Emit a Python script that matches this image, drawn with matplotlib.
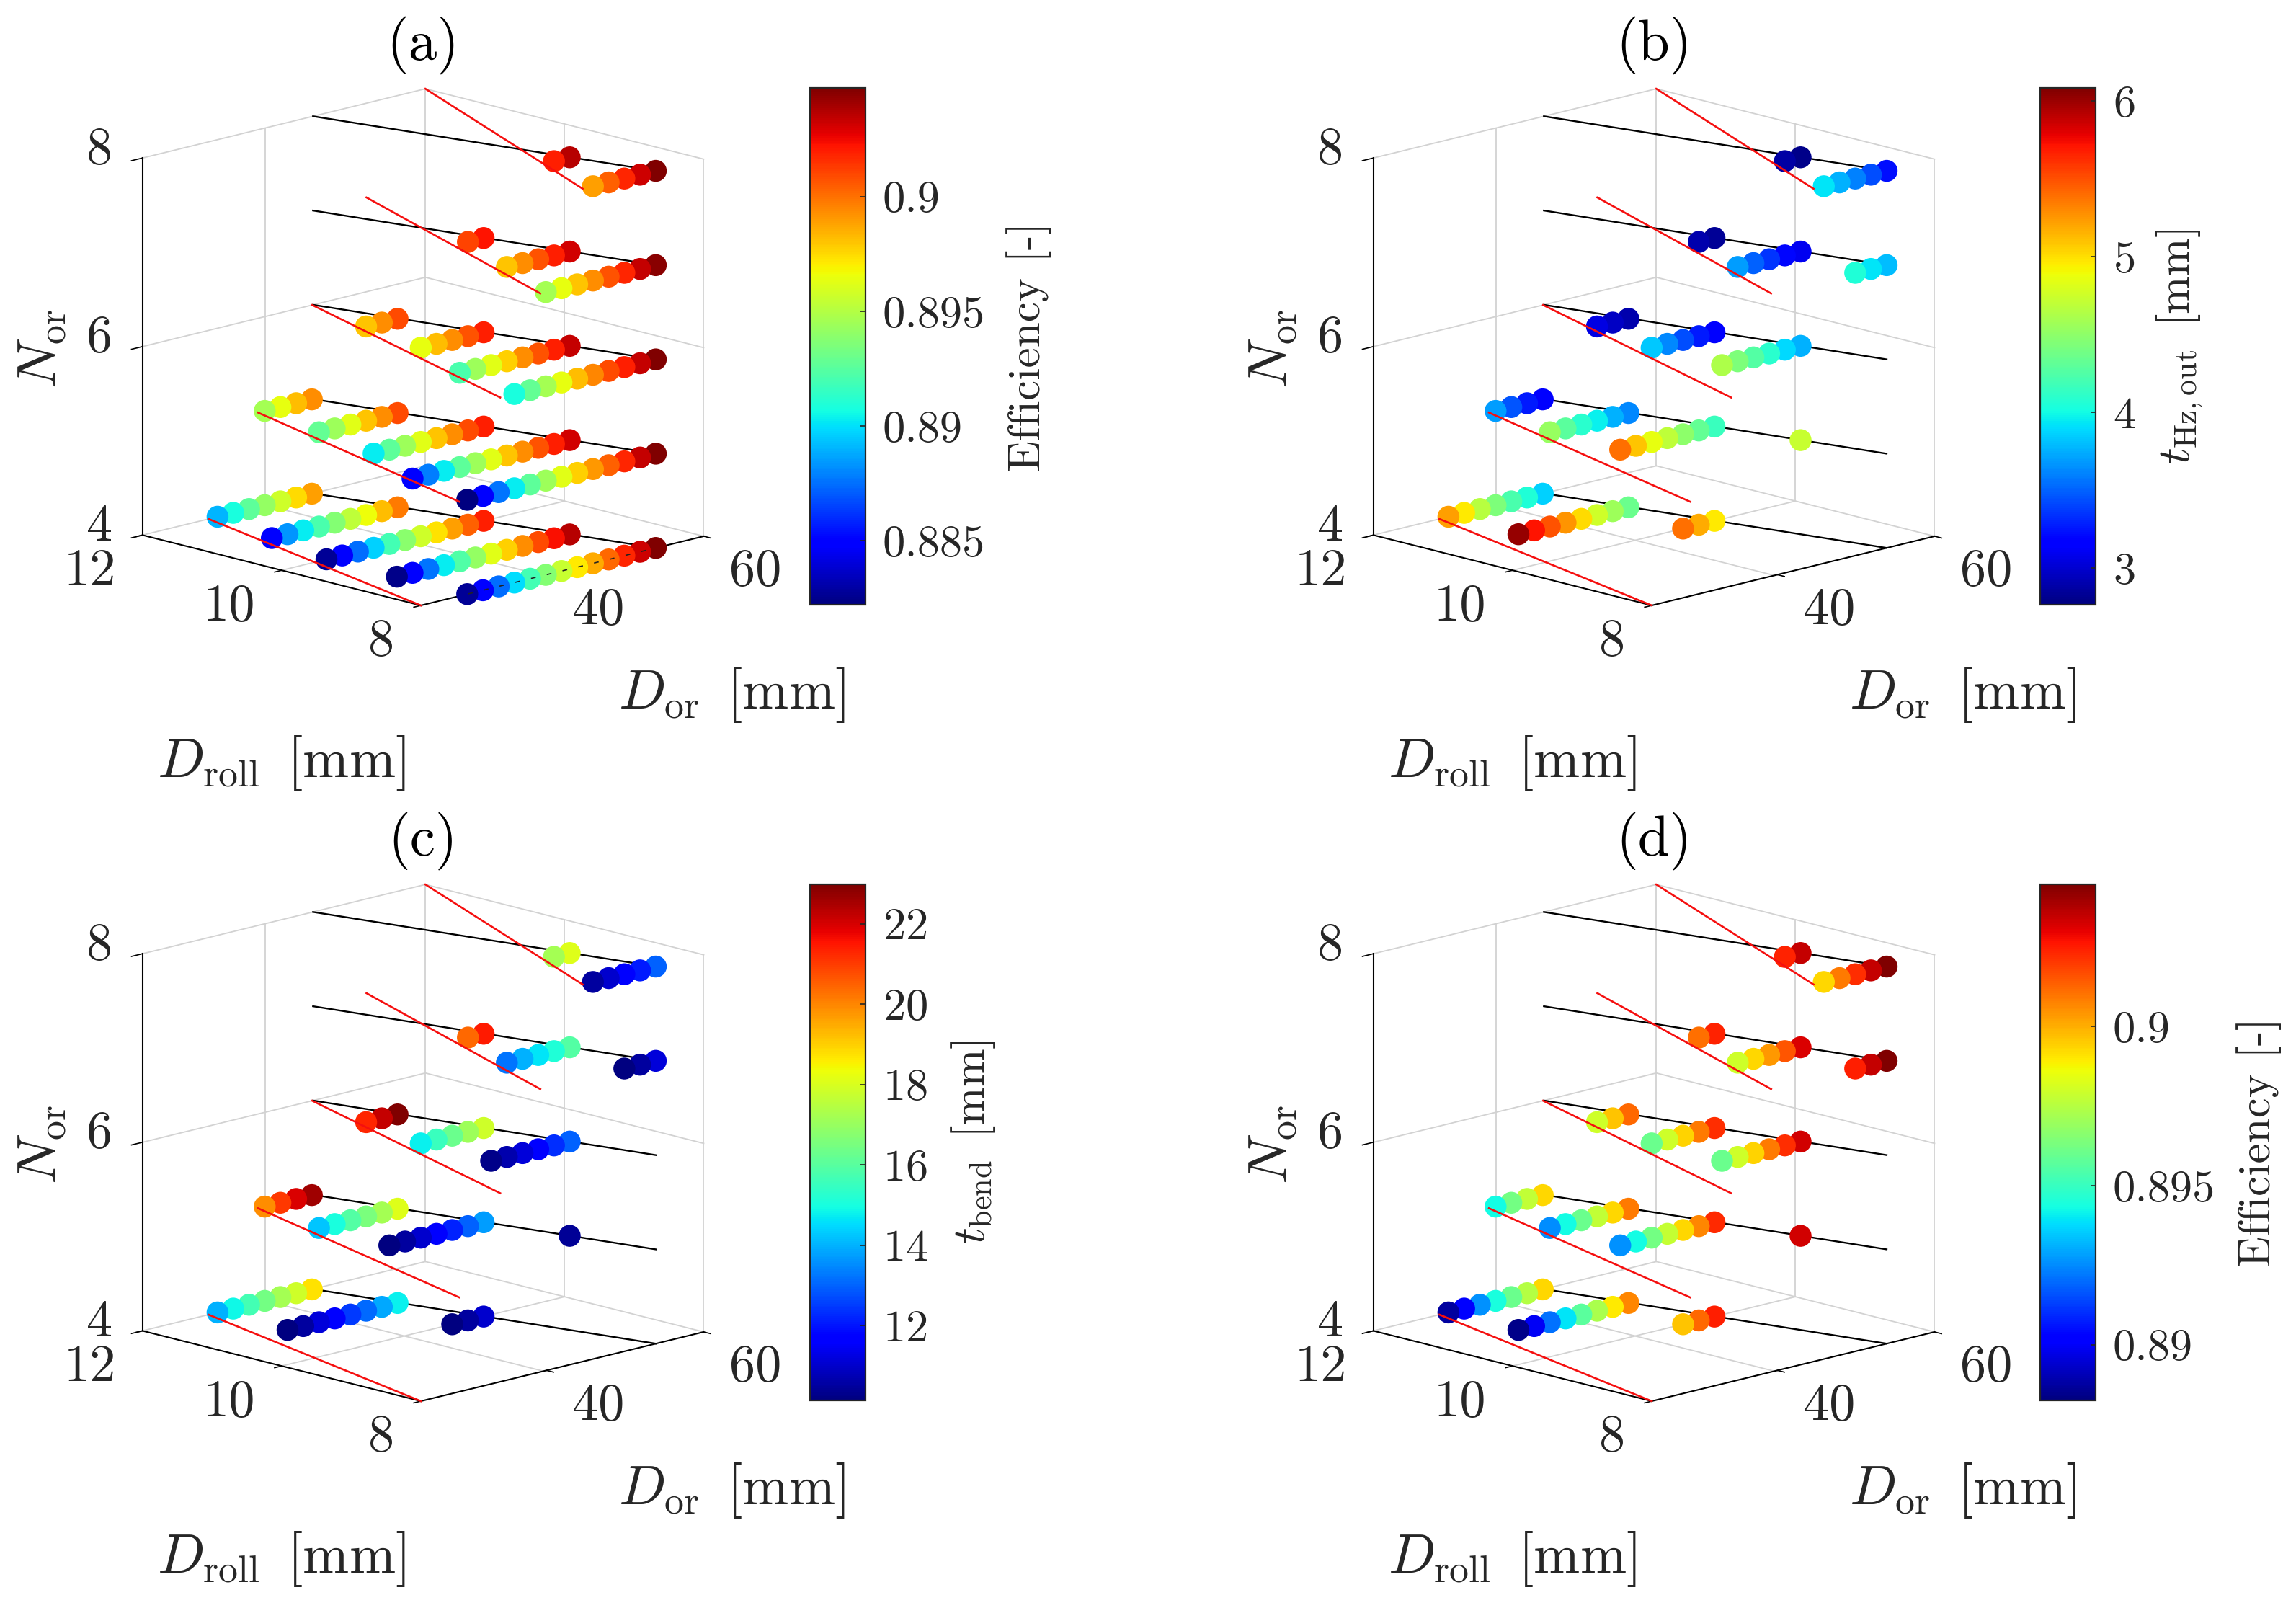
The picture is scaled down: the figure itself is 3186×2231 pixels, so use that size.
#recreate the four 3D design-space scatter panels with matplotlib
import matplotlib
matplotlib.use('Agg')
import matplotlib.pyplot as plt
from mpl_toolkits.mplot3d import proj3d

plt.rcParams['font.family'] = 'cmr10'
plt.rcParams['mathtext.fontset'] = 'cm'
plt.rcParams['axes.formatter.use_mathtext'] = True

W, H = 3186, 2231

nor_levels = [4, 5, 6, 7, 8]
droll_levels = [12, 11, 10, 9, 8]

# Dor of the available points for every Droll level, rows always end on the black line
dor_d12 = [33.55, 35.55, 37.55, 39.55, 41.55, 43.55, 45.55]
dor_d11 = [31.6, 33.6, 35.6, 37.6, 39.6, 41.6, 43.6, 45.6, 47.6]
dor_d10 = [29.7, 31.7, 33.7, 35.7, 37.7, 39.7, 41.7, 43.7, 45.7, 47.7, 49.7]
dor_d9 = [29.8, 31.8, 33.8, 35.8, 37.8, 39.8, 41.8, 43.8, 45.8, 47.8, 49.8, 51.8]
dor_d8 = [29.9, 31.9, 33.9, 35.9, 37.9, 39.9, 41.9, 43.9, 45.9, 47.9, 49.9, 51.9, 53.9]

# black and red limit lines
line_droll = [12, 8]
black_dor = [45.7, 53.9]
red_dor_d12 = [32.4, 38.7, 45.6, 52.5, 60.0]
red_dor_d8 = [24.0, 28.9, 34.1, 39.2, 44.6]

# panel values, one list per Droll level (12, 11, 10, 9, 8)
eff_a_n4 = [[.8890, .8908, .8926, .8941, .8957, .8975, .8989],
            [.8849, .8883, .8903, .8921, .8937, .8953, .8966, .8982, .8998],
            [.8827, .8847, .8874, .8896, .8919, .8939, .8957, .8973, .8989, .9004, .9020],
            [.8824, .8847, .8876, .8903, .8923, .8941, .8962, .8977, .8993, .9009, .9023, .9036],
            [.8827, .8847, .8874, .8899, .8919, .8937, .8955, .8971, .8986, .9002, .9018, .9032, .9047]]
eff_a_n5 = [[.8946, .8964, .8982, .8993],
            [.8928, .8944, .8962, .8980, .8993, .9009],
            [.8903, .8926, .8944, .8962, .8980, .8993, .9009, .9020],
            [.8847, .8878, .8903, .8926, .8944, .8962, .8980, .8993, .9007, .9020, .9031],
            [.8822, .8847, .8876, .8903, .8926, .8944, .8962, .8977, .8991, .9004, .9018, .9034, .9047]]
eff_a_n6 = [[],
            [.8980, .8993, .9009],
            [.8964, .8982, .8993, .9007, .9020],
            [.8921, .8944, .8962, .8977, .8993, .9007, .9020, .9034],
            [.8908, .8928, .8946, .8964, .8982, .8995, .9009, .9020, .9034, .9047]]
eff_a_n7 = [[], [],
            [.9011, .9022],
            [.8980, .8993, .9007, .9020, .9031],
            [.8946, .8964, .8980, .8993, .9007, .9018, .9034, .9045]]
eff_a_n8 = [[], [], [],
            [.9020, .9036],
            [.8989, .9004, .9018, .9032, .9047]]

thz_b_n4 = [[5.22, 4.96, 4.66, 4.43, 4.23, 4.06, 3.86],
            [6.02, 5.72, 5.49, 5.26, 5.02, 4.76, 4.56, 4.36],
            [5.39, 5.19, 4.96], [], []]
thz_b_n5 = [[3.69, 3.46, 3.26, 3.13],
            [4.53, 4.29, 4.09, 3.96, 3.76, 3.63],
            [5.39, 5.09, 4.86, 4.69, 4.49, 4.33, 4.16],
            [4.73], []]
thz_b_n6 = [[],
            [3.06, 2.97, 2.90],
            [3.83, 3.63, 3.43, 3.26, 3.13],
            [4.62, 4.43, 4.26, 4.09, 3.89, 3.76], []]
thz_b_n7 = [[], [],
            [2.90, 2.83],
            [3.69, 3.50, 3.36, 3.20, 3.10],
            [4.06, 3.93, 3.79]]
thz_b_n8 = [[], [], [],
            [2.87, 2.80],
            [3.93, 3.76, 3.60, 3.43, 3.23]]

tb_c_n4 = [[13.99, 14.89, 15.66, 16.43, 17.20, 17.84, 18.74],
           [10.14, 10.52, 11.17, 11.68, 12.45, 13.09, 13.86, 14.76],
           [10.14, 10.52, 11.04], [], []]
tb_c_n5 = [[19.90, 21.05, 21.95, 22.59],
           [14.25, 15.02, 15.92, 16.56, 17.20, 18.10],
           [10.14, 10.52, 11.04, 11.55, 12.19, 12.96, 13.74],
           [10.40], []]
tb_c_n6 = [[],
           [21.31, 22.21, 22.98],
           [14.76, 15.53, 16.30, 17.07, 17.84],
           [10.27, 10.65, 11.17, 11.68, 12.32, 12.96], []]
tb_c_n7 = [[], [],
           [20.41, 21.44],
           [13.22, 13.99, 14.63, 15.15, 15.92],
           [10.14, 10.52, 11.17]]
tb_c_n8 = [[], [], [],
           [17.20, 18.10],
           [10.52, 11.04, 11.55, 12.07, 12.96]]

eff_d_n4 = [[.8887, .8902, .8926, .8944, .8960, .8975, .8993],
            [.8884, .8899, .8921, .8939, .8957, .8973, .8990, .9007],
            [.8996, .9012, .9025], [], []]
eff_d_n5 = [[.8943, .8962, .8977, .8993],
            [.8925, .8943, .8960, .8977, .8993, .9009],
            [.8926, .8943, .8962, .8978, .8993, .9007, .9023],
            [.9033], []]
eff_d_n6 = [[],
            [.8980, .8996, .9012],
            [.8960, .8980, .8994, .9009, .9022],
            [.8960, .8980, .8994, .9009, .9022, .9033], []]
eff_d_n7 = [[], [],
            [.9011, .9024],
            [.8980, .8993, .9004, .9015, .9032],
            [.9025, .9035, .9045]]
eff_d_n8 = [[], [], [],
            [.9024, .9035],
            [.8993, .9009, .9022, .9035, .9045]]

cbar_a_ticks = [0.885, 0.89, 0.895, 0.9]
cbar_a_labels = ['0.885', '0.89', '0.895', '0.9']
cbar_b_ticks = [3, 4, 5, 6]
cbar_c_ticks = [12, 14, 16, 18, 20, 22]
cbar_d_ticks = [0.89, 0.895, 0.9]
cbar_d_labels = ['0.89', '0.895', '0.9']

TICK_FS = 52
LABEL_FS = 55.5
GREY = '#d2d2d2'
DARK = '#262626'
dor_rows = [dor_d12, dor_d11, dor_d10, dor_d9, dor_d8]

fig = plt.figure(figsize=(W / 100, H / 100), dpi=100, facecolor='white')


def new_axes(front_x, front_y):
    """3D axes whose front floor corner lands on the given pixel."""
    side = 920
    ax = fig.add_axes([0, 0, side / W, side / H], projection='3d',
                      proj_type='ortho', computed_zorder=False)
    ax.set_xlim(24, 60, view_margin=0)
    ax.set_ylim(8, 12, view_margin=0)
    ax.set_zlim(4, 8, view_margin=0)
    ax.set_box_aspect((1, 1, 0.981))
    ax.view_init(elev=14.4, azim=-134.54)
    ax.set_axis_off()
    x, y, _ = proj3d.proj_transform(24, 8, 4, ax.get_proj())
    px, py = ax.transData.transform((x, y))
    ax.set_position([(front_x - px) / W, (H - front_y - py) / H, side / W, side / H])
    return ax


def put_text(ax, x, y, z, dx, dy, s, **kw):
    # text at a data point of the 3D axes, shifted by dx, dy pixels (dy downwards)
    x2, y2, _ = proj3d.proj_transform(x, y, z, ax.get_proj())
    px, py = ax.transData.transform((x2, y2))
    fig.text((px + dx) / W, (py - dy) / H, s, **kw)


def draw_frame(ax):
    # grey box lines on the back walls and floor
    for z in [4, 6, 8]:
        ax.plot([24, 60], [12, 12], [z, z], color=GREY, lw=1.3, zorder=1)
        ax.plot([60, 60], [8, 12], [z, z], color=GREY, lw=1.3, zorder=1)
    for x, y in [(39.6, 12), (60, 12), (60, 8), (60, 10)]:
        ax.plot([x, x], [y, y], [4, 8], color=GREY, lw=1.3, zorder=1)
    ax.plot([39.6, 39.6], [8, 12], [4, 4], color=GREY, lw=1.3, zorder=1)
    ax.plot([24, 60], [10, 10], [4, 4], color=GREY, lw=1.3, zorder=1)

    # black axis lines and ticks
    ax.plot([24, 24], [12, 12], [4, 8], color='k', lw=1.5, zorder=2)
    ax.plot([24, 24], [8, 12], [4, 4], color='k', lw=1.5, zorder=2)
    ax.plot([24, 60], [8, 8], [4, 4], color='k', lw=1.5, zorder=2)
    for z in [4, 6, 8]:
        ax.plot([22.6, 24], [12, 12], [z, z], color='k', lw=1.2, zorder=2)
    for y in [8, 10, 12]:
        ax.plot([23.1, 24], [y, y], [4, 4], color='k', lw=1.2, zorder=2)
    for x in [40, 60]:
        ax.plot([x, x], [7.9, 8], [4, 4], color='k', lw=1.2, zorder=2)

    # tick labels
    for z in [4, 6, 8]:
        put_text(ax, 24, 12, z, -42, -11, str(z), ha='right', va='center', fontsize=TICK_FS, color=DARK)
    for y in [8, 10, 12]:
        put_text(ax, 24, y, 4, -37, 51, str(y), ha='right', va='center', fontsize=TICK_FS, color=DARK)
    for x in [40, 60]:
        put_text(ax, x, 8, 4, 36, 50, str(x), ha='left', va='center', fontsize=TICK_FS, color=DARK)

    # axis labels
    put_text(ax, 24, 8, 4, -525, -356, r'$N_{\mathrm{or}}$', rotation=90, ha='center', va='center',
             fontsize=LABEL_FS, color=DARK)
    put_text(ax, 24, 8, 4, -194, 219, r'$D_{\mathrm{roll}}\ \,[\mathrm{mm}]$', ha='center', va='center',
             fontsize=LABEL_FS, color=DARK)
    put_text(ax, 24, 8, 4, 431, 124, r'$D_{\mathrm{or}}\ \,[\mathrm{mm}]$', ha='center', va='center',
             fontsize=LABEL_FS, color=DARK)


def draw_panel(front, title, rows_by_nor, vmin, vmax, cbar_box, ticks, ticklabels, label, label_xy, edge_dash=False):
    ax = new_axes(*front)
    draw_frame(ax)

    for nor in nor_levels:
        ax.plot(black_dor, line_droll, [nor, nor], color='k', lw=1.7, zorder=3)

    xs, ys, zs, cs = [], [], [], []
    for nor, rows in zip(nor_levels, rows_by_nor):
        for droll, dors, vals in zip(droll_levels, dor_rows, rows):
            if len(vals) == 0:
                continue
            xs += dors[-len(vals):]
            ys += [droll] * len(vals)
            zs += [nor] * len(vals)
            cs += vals
    sc = ax.scatter(xs, ys, zs, c=cs, cmap='jet', vmin=vmin, vmax=vmax, s=480,
                    linewidths=0, depthshade=False, zorder=4)

    for nor, dor_a, dor_b in zip(nor_levels, red_dor_d12, red_dor_d8):
        ax.plot([dor_a, dor_b], line_droll, [nor, nor], color='#f50f0f', lw=1.9, zorder=5)

    if edge_dash:
        # the box edge shows through the front row in panel (a)
        ax.plot([30, 54], [8, 8], [4, 4], color='#222222', lw=1.2, zorder=5,
                linestyle=(0, (4, 9.5)))

    put_text(ax, 24, 8, 4, 3, -777, title, ha='center', va='center', fontsize=57, color='k')

    l, t, r, b = cbar_box
    cax = fig.add_axes([l / W, 1 - b / H, (r - l) / W, (b - t) / H])
    cbar = fig.colorbar(sc, cax=cax)
    cbar.set_ticks(ticks)
    if ticklabels is not None:
        cbar.set_ticklabels(ticklabels)
    cbar.ax.tick_params(direction='in', length=5, width=1.2, color=DARK, labelsize=45,
                        labelcolor=DARK, pad=17)
    cbar.outline.set_edgecolor(DARK)
    cbar.outline.set_linewidth(1.6)
    fig.text(label_xy[0] / W, 1 - label_xy[1] / H, label, rotation=90, ha='center', va='center',
             fontsize=45.5, color=DARK)


draw_panel((584, 840), '(a)', [eff_a_n4, eff_a_n5, eff_a_n6, eff_a_n7, eff_a_n8],
           0.8822, 0.90474, (1124, 122, 1201, 839), cbar_a_ticks, cbar_a_labels,
           'Efficiency [-]', (1428, 481), edge_dash=True)
draw_panel((2292, 840), '(b)', [thz_b_n4, thz_b_n5, thz_b_n6, thz_b_n7, thz_b_n8],
           2.765, 6.085, (2831, 122, 2908, 839), cbar_b_ticks, None,
           r'$t_{\mathrm{Hz,out}}\ \,[\mathrm{mm}]$', (3025, 481))
draw_panel((584, 1944), '(c)', [tb_c_n4, tb_c_n5, tb_c_n6, tb_c_n7, tb_c_n8],
           10.14, 22.98, (1124, 1227, 1201, 1943), cbar_c_ticks, None,
           r'$t_{\mathrm{bend}}\ \,[\mathrm{mm}]$', (1351, 1585))
draw_panel((2292, 1944), '(d)', [eff_d_n4, eff_d_n5, eff_d_n6, eff_d_n7, eff_d_n8],
           0.88825, 0.90447, (2831, 1227, 2908, 1943), cbar_d_ticks, cbar_d_labels,
           'Efficiency [-]', (3135, 1585))

fig.savefig('out.png', dpi=100)
